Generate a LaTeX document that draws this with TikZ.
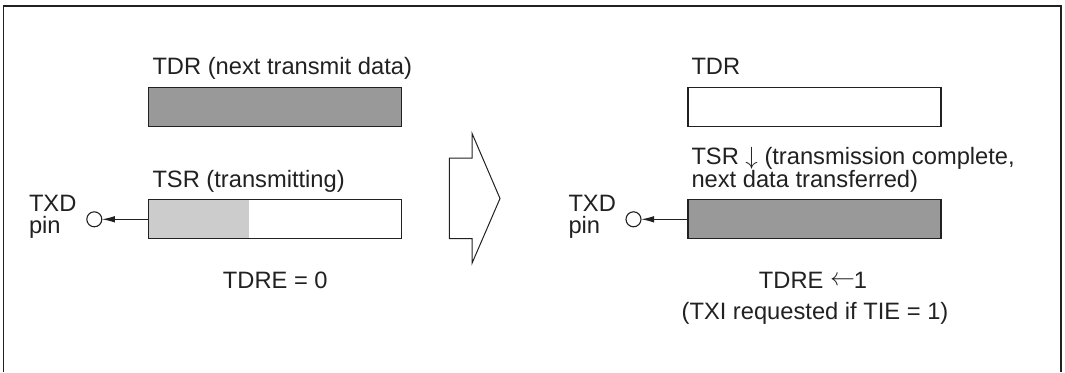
\documentclass[tikz,border=0pt]{standalone}
\usepackage{fontspec}
\setmainfont{Liberation Sans}
\usetikzlibrary{arrows.meta}
\definecolor{regdark}{gray}{0.6}
\definecolor{reglight}{gray}{0.8}
\definecolor{inkc}{gray}{0.13}
\begin{document}
\begin{tikzpicture}[x=1pt,y=-1pt,
  every node/.style={font=\fontsize{23.7}{28}\selectfont, inner sep=0pt, outer sep=0pt, text=inkc},
  regbox/.style={draw=inkc, line width=1.3pt, minimum width=253pt, minimum height=39pt, inner sep=0pt},
  pinc/.style={circle, draw=inkc, line width=1.1pt, fill=white, minimum size=15pt},
  wire/.style={draw=inkc, line width=1.1pt, -{Latex[length=13pt,width=6.5pt]}},
  lbl/.style={anchor=base west},
  ctr/.style={anchor=base},
  frame/.style={draw=inkc, line width=1.6pt},
  bigarrow/.style={draw=inkc, line width=1pt, line join=miter}]
\useasboundingbox (0,0) rectangle (1065,372);
% frame
\draw[frame] (3.5,372) -- (3.5,6) -- (1061,6) -- (1061,372);

% ---- left state ----
\node[regbox, fill=regdark] (tdrL) at (275.3,107.2) {};
\node[regbox, fill=white, path picture={\fill[reglight] (path picture bounding box.south west) rectangle ([xshift=99.8pt]path picture bounding box.north west);}] (tsrL) at (275.3,219.3) {};
\node[pinc] (pinL) at (94.3,219.3) {};
\draw[wire] (tsrL.west) -- (pinL.east);
\node[lbl] (tdrLlbl) at (152.5,74.5) {TDR (next transmit data)};
\node[lbl] (tsrLlbl) at (152.5,187.3) {TSR (transmitting)};
\node[lbl] (txdL1) at (29,211.5) {TXD};
\node[lbl] (txdL2) at (29,233.8) {pin};
\node[ctr] (tdreL) at (275.3,288.3) {TDRE = 0};

% ---- big transition arrow ----
\draw[bigarrow] (449.3,158) -- (472,158) -- (472,133.3) -- (500,198.5) -- (472,263.3) -- (472,238.5) -- (449.3,238.5) -- cycle;

% ---- right state ----
\node[regbox, fill=white] (tdrR) at (814.5,107.2) {};
\node[regbox, fill=regdark] (tsrR) at (814.5,219.3) {};
\node[pinc] (pinR) at (633.5,219.3) {};
\draw[wire] (tsrR.west) -- (pinR.east);
\node[lbl] (tdrRlbl) at (691.5,74.5) {TDR};
\node[lbl] (tsrR1) at (691.5,164.8) {TSR $\downarrow$ (transmission complete,};
\node[lbl] (tsrR2) at (691.5,187.3) {next data transferred)};
\node[lbl] (txdR1) at (568.5,211.5) {TXD};
\node[lbl] (txdR2) at (568.5,233.8) {pin};
\node[ctr] (tdreR) at (813,288.3) {TDRE \raisebox{3pt}{$\leftarrow$}\kern-1pt1};
\node[ctr] (txiR) at (815,319) {(TXI requested if TIE = 1)};
\end{tikzpicture}
\end{document}
